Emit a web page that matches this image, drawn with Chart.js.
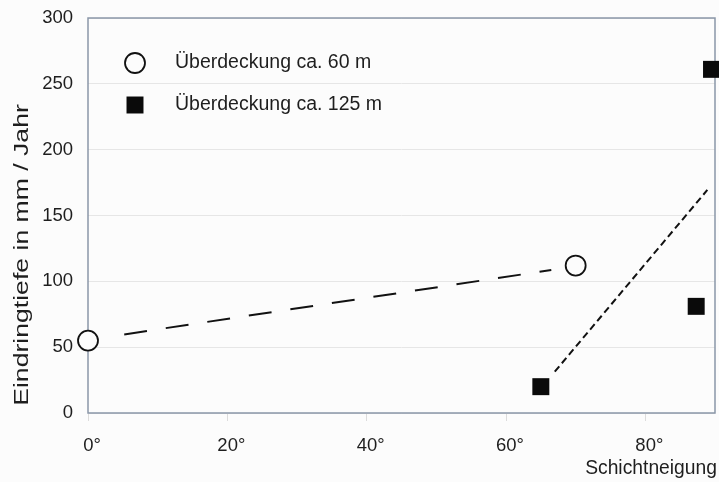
<!DOCTYPE html>
<html>
<head>
<meta charset="utf-8">
<script src="https://cdn.jsdelivr.net/npm/chart.js@4/dist/chart.umd.min.js"></script>
<style>
  html, body { margin: 0; padding: 0; background: #fcfcfc; overflow: hidden; }
  canvas { display: block; }
</style>
</head>
<body>
<canvas id="c" width="719" height="482"></canvas>
<script>
// Schichtneigung (°) vs. Eindringtiefe (mm / Jahr)
const seriesLabels = ['Überdeckung ca. 60 m', 'Überdeckung ca. 125 m'];

const neigung60 = [0, 70];
const tiefe60 = [55, 112];

const neigung125 = [65, 87.3, 89.5];
const tiefe125 = [20, 81, 261];

// Trendlinien (Anfangs- und Endpunkt)
const trend60X = [5.2, 66.5];
const trend60Y = [59.7, 108.6];
const trend125X = [67, 88.9];
const trend125Y = [31.4, 169.4];

const xTickValues = [0, 20, 40, 60, 80];
const yTickValues = [0, 50, 100, 150, 200, 250, 300];

const axisTitleY = 'Eindringtiefe in mm / Jahr';
const axisTitleX = 'Schichtneigung';

const FONT = '"Liberation Sans", Arial, sans-serif';
const TEXT = '#1e1e1e';
const FRAME = '#8a97a8';

const toPoints = (xs, ys) => xs.map((x, i) => ({ x: x, y: ys[i] }));

// Rahmen um die Zeichenfläche, Achsentitel und Legende
const decor = {
  id: 'decor',
  beforeDatasetsDraw(chart) {
    const { ctx, chartArea: a } = chart;
    ctx.save();
    ctx.strokeStyle = FRAME;
    ctx.lineWidth = 1.5;
    ctx.strokeRect(a.left, a.top, a.right - a.left, a.bottom - a.top);
    ctx.restore();
  },
  afterDraw(chart) {
    const { ctx } = chart;
    ctx.save();
    ctx.fillStyle = TEXT;
    // y-Achsentitel (in Laufrichtung gestreckt)
    ctx.save();
    ctx.font = '20px ' + FONT;
    ctx.translate(22, 255);
    ctx.rotate(-Math.PI / 2);
    ctx.scale(1.33, 1);
    ctx.textAlign = 'center';
    ctx.textBaseline = 'middle';
    ctx.fillText(axisTitleY, 0, 0);
    ctx.restore();
    // x-Achsentitel
    ctx.font = '19.3px ' + FONT;
    ctx.textAlign = 'right';
    ctx.textBaseline = 'middle';
    ctx.fillText(axisTitleX, 717, 469);
    // Legende
    ctx.font = '19.5px ' + FONT;
    const items = [chart.data.datasets[0], chart.data.datasets[1]];
    items.forEach((ds, i) => {
      const cy = 63 + i * 42;
      ctx.fillStyle = ds.pointBackgroundColor;
      ctx.strokeStyle = ds.pointBorderColor;
      ctx.lineWidth = ds.borderWidth;
      ctx.beginPath();
      if (ds.pointStyle === 'circle') {
        ctx.arc(135, cy, ds.pointRadius, 0, Math.PI * 2);
      } else {
        const s = ds.pointRadius * Math.SQRT1_2;
        ctx.rect(135 - s, cy - s, 2 * s, 2 * s);
      }
      ctx.fill();
      if (ds.borderWidth) ctx.stroke();
      ctx.fillStyle = TEXT;
      ctx.textAlign = 'left';
      ctx.textBaseline = 'middle';
      ctx.fillText(ds.label, 175, cy);
    });
    ctx.restore();
  }
};

new Chart(document.getElementById('c'), {
  type: 'scatter',
  data: {
    datasets: [
      {
        label: seriesLabels[0],
        data: toPoints(neigung60, tiefe60),
        pointStyle: 'circle',
        pointRadius: 10,
        pointHoverRadius: 10,
        borderWidth: 1.8,
        pointBorderColor: '#111',
        pointBackgroundColor: '#fcfcfc',
        clip: false,
        order: 0
      },
      {
        label: seriesLabels[1],
        data: toPoints(neigung125, tiefe125),
        pointStyle: 'rect',
        pointRadius: 12,
        pointHoverRadius: 12,
        borderWidth: 0,
        pointBorderColor: '#0a0a0a',
        pointBackgroundColor: '#0a0a0a',
        clip: false,
        order: 0
      },
      {
        type: 'line',
        data: toPoints(trend60X, trend60Y),
        borderColor: '#111',
        borderWidth: 2,
        borderDash: [23, 19],
        pointRadius: 0,
        fill: false,
        order: 1
      },
      {
        type: 'line',
        data: toPoints(trend125X, trend125Y),
        borderColor: '#111',
        borderWidth: 2,
        borderDash: [7, 4],
        pointRadius: 0,
        fill: false,
        order: 1
      }
    ]
  },
  options: {
    responsive: false,
    animation: false,
    events: [],
    layout: { autoPadding: false, padding: { top: 18, right: 4, left: 0, bottom: 0 } },
    plugins: { legend: { display: false }, tooltip: { enabled: false } },
    scales: {
      x: {
        type: 'linear',
        min: 0,
        max: 90,
        afterFit(s) {
          s.height = 69;
          s.paddingLeft = 0; s.paddingRight = 0;
        },
        afterBuildTicks(s) { s.ticks = xTickValues.map(v => ({ value: v })); },
        border: { display: false },
        grid: { drawOnChartArea: false, drawTicks: true, tickLength: 8, color: '#dcdcdc' },
        ticks: {
          padding: 14,
          labelOffset: 4,
          color: TEXT,
          font: { family: FONT, size: 18.5 },
          callback: v => v + '°'
        }
      },
      y: {
        min: 0,
        max: 300,
        afterFit(s) {
          s.width = 88;
          s.paddingTop = 0; s.paddingBottom = 0;
        },
        afterBuildTicks(s) { s.ticks = yTickValues.map(v => ({ value: v })); },
        border: { display: false },
        grid: { drawTicks: false, color: '#e6e6e6', lineWidth: 1 },
        ticks: {
          padding: 15,
          color: TEXT,
          font: { family: FONT, size: 18.5 }
        }
      }
    }
  },
  plugins: [decor]
});
</script>
</body>
</html>
